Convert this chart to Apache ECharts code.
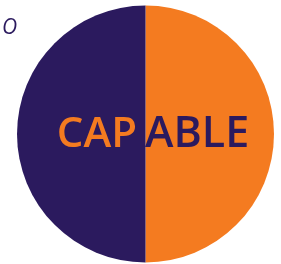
<!DOCTYPE html>
<html>
<head>
<meta charset="utf-8">
<script src="https://cdn.jsdelivr.net/npm/echarts@6/dist/echarts.min.js"></script>
<style>
  html, body { margin: 0; padding: 0; background: #fff; }
  #main { width: 281px; height: 264px; }
</style>
</head>
<body>
<div id="main"></div>
<script>
// two halves of the circle
var categories = ['ABLE', 'CAP'];
var values = [50, 50];
var colors = ['#F47B20', '#2B1A5E'];

var chart = echarts.init(document.getElementById('main'));

var option = {
  animation: false,
  title: [
    {
      text: 'O',
      left: 2,
      top: 18,
      padding: 0,
      textStyle: { color: '#2B1A5E', fontSize: 21, fontStyle: 'italic', fontWeight: 'normal', fontFamily: 'Open Sans' }
    },
    {
      // CAP sits on the purple half, right-aligned to just before the divider
      text: categories[1],
      right: 144,
      top: 114,
      padding: 0,
      textStyle: { color: colors[0], fontSize: 42, fontWeight: 600, fontFamily: 'Open Sans' }
    },
    {
      text: categories[0],
      left: 145,
      top: 113,
      padding: 0,
      textStyle: { color: colors[1], fontSize: 43, fontWeight: 600, fontFamily: 'Open Sans' }
    }
  ],
  series: [
    {
      type: 'pie',
      center: [145.5, 134],
      radius: [0, 128.5],
      startAngle: 90,
      clockwise: true,
      label: { show: false },
      labelLine: { show: false },
      itemStyle: { borderWidth: 0 },
      data: categories.map(function (c, i) {
        return { name: c, value: values[i], itemStyle: { color: colors[i] } };
      })
    }
  ]
};

chart.setOption(option);
</script>
</body>
</html>
